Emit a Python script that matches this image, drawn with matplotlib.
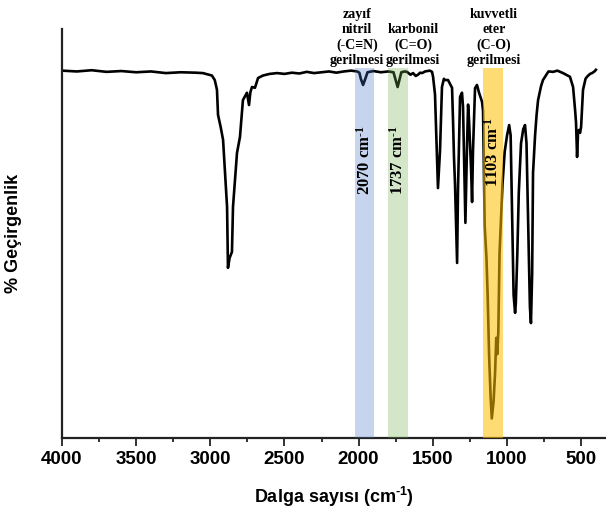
import matplotlib
matplotlib.use("Agg")
import matplotlib.pyplot as plt
from matplotlib.ticker import MultipleLocator

plt.rcParams['mathtext.default'] = 'regular'

# spectrum (wavenumber cm-1, % transmittance on a 0-100 scale)
wavenumber = [4000, 3900, 3800, 3700, 3600, 3500, 3400, 3300, 3200, 3100, 3050, 3010,
              2989, 2970, 2955, 2948, 2930, 2914, 2887, 2881, 2870, 2854, 2847, 2820,
              2800, 2780, 2753, 2739, 2730, 2719, 2699, 2678, 2645, 2600, 2550, 2500,
              2450, 2400, 2350, 2300, 2250, 2200, 2150, 2100, 2050, 2010, 1995, 1985,
              1970, 1955, 1940, 1900, 1850, 1800, 1765, 1750, 1737, 1725, 1712, 1690,
              1674, 1650, 1633, 1615, 1600, 1585, 1572, 1552, 1520, 1505, 1498, 1485,
              1475, 1465, 1458, 1451, 1438, 1425, 1417, 1397, 1370, 1363, 1357, 1350,
              1336, 1330, 1316, 1303, 1296, 1290, 1280, 1270, 1262, 1256, 1242, 1235,
              1229, 1215, 1202, 1188, 1168, 1161, 1155, 1150, 1145, 1138, 1130, 1120,
              1110, 1102, 1090, 1080, 1072, 1065, 1058, 1050, 1030, 1015, 999, 985,
              975, 965, 955, 945, 940, 930, 920, 905, 890, 878, 868, 858, 845, 838,
              830, 824, 810, 800, 790, 770, 757, 720, 689, 660, 622, 590, 575, 560,
              554, 540, 534, 527, 520, 514, 507, 500, 487, 470, 460, 440, 426, 410, 400]
transmittance = [89.8, 89.6, 89.9, 89.5, 89.7, 89.4, 89.6, 89.2, 89.4, 89.3, 89.2, 88.8,
                 88.6, 87.5, 85.1, 79.0, 76.0, 72.9, 56.5, 41.6, 44.0, 45.5, 56.5, 69.7,
                 73.6, 82.6, 84.4, 81.4, 84.5, 85.8, 85.6, 88.0, 88.6, 89.0, 89.2, 89.0,
                 89.3, 89.1, 89.5, 89.2, 89.4, 89.6, 89.3, 89.6, 89.8, 89.6, 89.3, 87.8,
                 86.3, 87.8, 89.4, 89.7, 89.4, 89.6, 89.4, 87.5, 85.8, 87.5, 89.4, 89.6,
                 89.5, 88.8, 89.2, 88.5, 88.8, 89.3, 89.2, 89.6, 89.8, 89.5, 88.3, 84.0,
                 72.9, 61.1, 66.0, 70.4, 85.8, 87.8, 87.5, 87.5, 85.6, 77.0, 68.7, 62.0,
                 42.8, 60.6, 83.4, 84.4, 80.9, 70.0, 52.6, 70.0, 81.5, 78.0, 66.0, 57.7,
                 70.0, 85.5, 86.3, 84.4, 82.2, 80.0, 65.0, 52.0, 48.5, 44.0, 35.0, 20.0,
                 10.0, 4.8, 9.0, 15.9, 24.5, 20.5, 26.0, 45.0, 62.0, 70.0, 74.0, 76.5,
                 74.0, 55.0, 35.0, 30.6, 33.0, 45.0, 60.0, 72.0, 75.5, 76.5, 72.0, 55.0,
                 32.0, 28.1, 40.0, 64.8, 74.1, 79.0, 82.6, 86.0, 87.5, 89.6, 89.5, 89.8,
                 89.2, 88.6, 88.3, 86.5, 85.8, 80.0, 77.0, 68.7, 75.0, 75.3, 74.6, 76.0,
                 85.1, 87.8, 88.3, 89.0, 89.2, 89.6, 90.0]

# highlighted bands (left edge, right edge, colour)
band_lo = [1896, 1667, 1027]
band_hi = [2024, 1802, 1162]
band_colors = ['#4472c4', '#70ad47', '#ffc000']
band_alpha = [0.3, 0.3, 0.55]

peak_labels = ['2070 cm$^{\u20101}$', '1737 cm$^{\u20101}$', '1103 cm$^{\u20101}$']
peak_x = [1960, 1735, 1095]
peak_y = [68, 68, 70]

group_labels = ['zayıf\nnitril\n(-C≡N)\ngerilmesi',
                'karbonil\n(C=O)\ngerilmesi',
                'kuvvetli\neter\n(C-O)\ngerilmesi']
group_x = [2011, 1633, 1087]

fig = plt.figure(figsize=(6.06, 5.16), dpi=100)
ax = fig.add_axes([0.1023, 0.151, 0.8977, 0.793])

ax.plot(wavenumber, transmittance, color='black', lw=1.9, zorder=2)

for lo, hi, c, a in zip(band_lo, band_hi, band_colors, band_alpha):
    ax.axvspan(lo, hi, ymin=0, ymax=0.905, color=c, alpha=a, lw=0, zorder=3)

serif = ['Liberation Serif', 'DejaVu Serif']
for txt, x, y in zip(peak_labels, peak_x, peak_y):
    ax.text(x, y, txt, rotation=90, ha='center', va='center', fontsize=12,
            fontweight='bold', family=serif, zorder=4)

for txt, x in zip(group_labels, group_x):
    ax.text(x, 90.6, txt, ha='center', va='bottom', fontsize=10, fontweight='bold',
            family=serif, linespacing=1.22, clip_on=False, zorder=4)

ax.set_xlim(4000, 332)
ax.set_ylim(0, 100)
ax.xaxis.set_major_locator(MultipleLocator(500))
ax.xaxis.set_minor_locator(MultipleLocator(250))
ax.set_yticks([])

for s in ['top', 'right']:
    ax.spines[s].set_visible(False)
for s in ['left', 'bottom']:
    ax.spines[s].set_linewidth(1.6)
    ax.spines[s].set_color('#222222')

ax.tick_params(axis='x', which='major', direction='out', length=5.5, width=1.3,
               pad=4, labelsize=13.5, color='#222222')
ax.tick_params(axis='x', which='minor', direction='out', length=3, width=1.3,
               color='#222222')
for lab in ax.get_xticklabels():
    lab.set_fontweight('bold')
    lab.set_family('Liberation Sans')

ax.set_xlabel('Dalga sayısı (cm$^{\u20101}$)', fontsize=13, fontweight='bold',
              family=['Liberation Sans', 'DejaVu Sans'])
ax.xaxis.set_label_coords(0.5, -0.115)
ax.set_ylabel('% Geçirgenlik', fontsize=13, fontweight='bold', family='Liberation Sans')
ax.yaxis.set_label_coords(-0.0735, 0.5)

fig.savefig('out.png', dpi=100)
